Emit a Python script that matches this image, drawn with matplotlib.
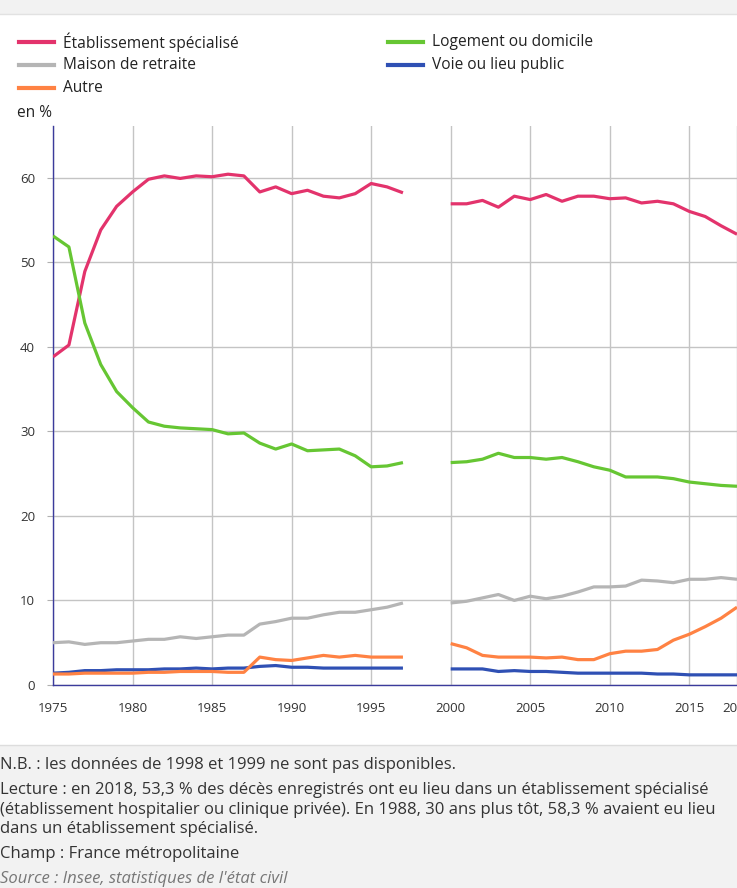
import numpy as np
import matplotlib
matplotlib.use('Agg')
import matplotlib.pyplot as plt
from matplotlib.patches import Rectangle
from matplotlib.lines import Line2D

plt.rcParams['font.family'] = ['Open Sans', 'DejaVu Sans']

nan = np.nan
years = np.arange(1975, 2019)

# 1998 and 1999 are missing
etab = [38.8, 40.2, 48.9, 53.8, 56.6, 58.3, 59.8, 60.2, 59.9, 60.2, 60.1, 60.4,
        60.2, 58.3, 58.9, 58.1, 58.5, 57.8, 57.6, 58.1, 59.3, 58.9, 58.2, nan, nan,
        56.9, 56.9, 57.3, 56.5, 57.8, 57.4, 58.0, 57.2, 57.8, 57.8, 57.5, 57.6,
        57.0, 57.2, 56.9, 56.0, 55.4, 54.3, 53.3]
logement = [53.1, 51.8, 42.8, 37.9, 34.7, 32.8, 31.1, 30.6, 30.4, 30.3, 30.2, 29.7,
            29.8, 28.6, 27.9, 28.5, 27.7, 27.8, 27.9, 27.1, 25.8, 25.9, 26.3, nan, nan,
            26.3, 26.4, 26.7, 27.4, 26.9, 26.9, 26.7, 26.9, 26.4, 25.8, 25.4, 24.6,
            24.6, 24.6, 24.4, 24.0, 23.8, 23.6, 23.5]
maison = [5.0, 5.1, 4.8, 5.0, 5.0, 5.2, 5.4, 5.4, 5.7, 5.5, 5.7, 5.9,
          5.9, 7.2, 7.5, 7.9, 7.9, 8.3, 8.6, 8.6, 8.9, 9.2, 9.7, nan, nan,
          9.7, 9.9, 10.3, 10.7, 10.0, 10.5, 10.2, 10.5, 11.0, 11.6, 11.6, 11.7,
          12.4, 12.3, 12.1, 12.5, 12.5, 12.7, 12.5]
voie = [1.4, 1.5, 1.7, 1.7, 1.8, 1.8, 1.8, 1.9, 1.9, 2.0, 1.9, 2.0,
        2.0, 2.2, 2.3, 2.1, 2.1, 2.0, 2.0, 2.0, 2.0, 2.0, 2.0, nan, nan,
        1.9, 1.9, 1.9, 1.6, 1.7, 1.6, 1.6, 1.5, 1.4, 1.4, 1.4, 1.4,
        1.4, 1.3, 1.3, 1.2, 1.2, 1.2, 1.2]
autre = [1.3, 1.3, 1.4, 1.4, 1.4, 1.4, 1.5, 1.5, 1.6, 1.6, 1.6, 1.5,
         1.5, 3.3, 3.0, 2.9, 3.2, 3.5, 3.3, 3.5, 3.3, 3.3, 3.3, nan, nan,
         4.9, 4.4, 3.5, 3.3, 3.3, 3.3, 3.2, 3.3, 3.0, 3.0, 3.7, 4.0,
         4.0, 4.2, 5.3, 6.0, 6.9, 7.9, 9.2]

labels = ['Établissement spécialisé', 'Logement ou domicile', 'Maison de retraite',
          'Voie ou lieu public', 'Autre']
colors = ['#e3336c', '#66c633', '#b5b5b5', '#2f50b4', '#ff8243']
series = [etab, logement, maison, voie, autre]

xticks = [1975, 1980, 1985, 1990, 1995, 2000, 2005, 2010, 2015, 2018]
yticks = [0, 10, 20, 30, 40, 50, 60]

W, H = 737, 888
fig = plt.figure(figsize=(W / 100, H / 100), dpi=100)

# header band and footer band
fig.patches.append(Rectangle((0, 1 - 14 / H), 1, 14 / H, transform=fig.transFigure,
                             facecolor='#f2f2f2', edgecolor='none', zorder=0))
fig.lines.append(Line2D([0, 1], [1 - 14.5 / H] * 2, transform=fig.transFigure,
                        color='#e2e2e2', lw=1))
fig.patches.append(Rectangle((0, 0), 1, 1 - 745 / H, transform=fig.transFigure,
                             facecolor='#f2f2f2', edgecolor='none', zorder=0))
fig.lines.append(Line2D([0, 1], [1 - 745 / H] * 2, transform=fig.transFigure,
                        color='#dddddd', lw=1))

ax = fig.add_axes([53 / W, 1 - 685 / H, (737 - 53) / W, (685 - 126) / H])
ax.set_facecolor('none')
for s, c in zip(series, colors):
    ax.plot(years, s, color=c, lw=2.3, solid_capstyle='butt', zorder=3)

ax.set_xlim(1975, 2018)
ax.set_ylim(0, 66.1)
ax.set_xticks(xticks)
ax.set_yticks(yticks)
ax.grid(True, color='#c4c4c4', lw=1)
ax.set_axisbelow(True)
for side in ['top', 'right']:
    ax.spines[side].set_visible(False)
for side in ['left', 'bottom']:
    ax.spines[side].set_color('#3b3b9c')
    ax.spines[side].set_linewidth(1)
ax.tick_params(axis='x', length=0, pad=12, labelsize=9.5, labelcolor='#333333')
ax.tick_params(axis='y', length=4, color='#b0b0b0', pad=9, labelsize=9.5,
               labelcolor='#333333')
for t in ax.get_xticklabels():
    t.set_clip_on(False)

# legend
leg_pos = [(19, 42), (388, 42), (19, 65), (388, 65), (19, 88)]
for (px, py), lab, c in zip(leg_pos, labels, colors):
    fig.lines.append(Line2D([px / W, (px + 35) / W], [1 - py / H] * 2,
                            transform=fig.transFigure, color=c, lw=3))
    fig.text((px + 44) / W, 1 - py / H, lab, fontsize=11.2, color='#222222',
             va='center', ha='left')

fig.text(17 / W, 1 - 113 / H, 'en %', fontsize=11.2, color='#222222',
         va='center', ha='left')

# footer notes
notes = [
    (765, 'N.B. : les données de 1998 et 1999 ne sont pas disponibles.', 'normal', '#333333'),
    (790, 'Lecture : en 2018, 53,3 % des décès enregistrés ont eu lieu dans un établissement spécialisé', 'normal', '#333333'),
    (810, '(établissement hospitalier ou clinique privée). En 1988, 30 ans plus tôt, 58,3 % avaient eu lieu', 'normal', '#333333'),
    (829, 'dans un établissement spécialisé.', 'normal', '#333333'),
    (854, 'Champ : France métropolitaine', 'normal', '#333333'),
    (879, "Source : Insee, statistiques de l'état civil", 'italic', '#777777'),
]
for py, txt, style, col in notes:
    fig.text(0.5 / W, 1 - py / H, txt, fontsize=12.0, color=col, style=style,
             va='center', ha='left')

fig.savefig('out.png', dpi=100)
